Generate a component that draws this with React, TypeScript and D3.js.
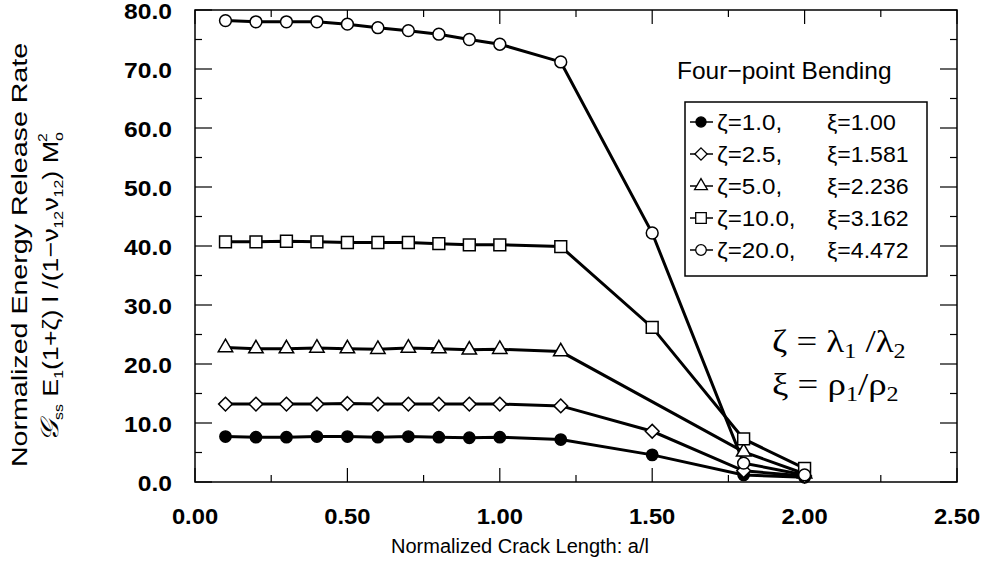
import React from 'react';
import * as d3 from 'd3';

// crack length a/l at which the energy release rate was computed
const crackLength = [0.1, 0.2, 0.3, 0.4, 0.5, 0.6, 0.7, 0.8, 0.9, 1.0, 1.2, 1.5, 1.8, 2.0];

const zetaLabels = ['1.0', '2.5', '5.0', '10.0', '20.0'];
const xiLabels = ['1.00', '1.581', '2.236', '3.162', '4.472'];

// normalized G for each ζ (null = no point drawn at that a/l)
const g1 = [7.7, 7.6, 7.6, 7.7, 7.7, 7.6, 7.7, 7.6, 7.5, 7.6, 7.2, 4.6, 1.2, 0.8];
const g2 = [13.2, 13.2, 13.2, 13.2, 13.3, 13.2, 13.2, 13.2, 13.2, 13.2, 12.9, 8.6, 1.9, 1.0];
const g5 = [22.8, 22.6, 22.6, 22.7, 22.6, 22.5, 22.7, 22.6, 22.4, 22.5, 22.1, null, 5.1, 1.4];
const g10 = [40.7, 40.7, 40.8, 40.7, 40.6, 40.6, 40.6, 40.4, 40.2, 40.2, 39.9, 26.2, 7.3, 2.3];
const g20 = [78.2, 78.0, 78.0, 78.0, 77.6, 77.0, 76.5, 75.9, 75.0, 74.2, 71.2, 42.2, 3.2, 1.2];

const xTicks = [0, 0.5, 1.0, 1.5, 2.0, 2.5];
const yTicks = [0, 10, 20, 30, 40, 50, 60, 70, 80];

const W = 984;
const H = 577;
const left = 195, right = 957, top = 10, bottom = 482;

const font = '"Liberation Sans", Arial, Helvetica, sans-serif';
const serif = '"Liberation Serif", "Times New Roman", serif';

const series = [
  { values: g1, symbol: d3.symbolCircle, size: 100, fill: '#000' },
  { values: g2, symbol: d3.symbolDiamond2, size: 120, fill: '#fff' },
  { values: g5, symbol: d3.symbolTriangle, size: 90, fill: '#fff' },
  { values: g10, symbol: d3.symbolSquare, size: 140, fill: '#fff' },
  { values: g20, symbol: d3.symbolCircle, size: 110, fill: '#fff' },
];

export default function App() {
  const x = d3.scaleLinear().domain([0, 2.5]).range([left, right]);
  const y = d3.scaleLinear().domain([0, 80]).range([bottom, top]);

  const line = d3.line<[number, number]>()
    .x(d => x(d[0]))
    .y(d => y(d[1]));

  const xMinor = d3.range(0, 2.51, 0.25);
  const yMinor = d3.range(0, 80.1, 5);

  return (
    <svg width={W} height={H} style={{ position: 'absolute', left: 0, top: 0, background: '#fff' }}>
      <rect x={0} y={0} width={W} height={H} fill="#fff" />

      {/* frame */}
      <rect x={left} y={top} width={right - left} height={bottom - top}
        fill="none" stroke="#000" strokeWidth={1.5} />

      {/* ticks, all four sides, pointing in */}
      {xMinor.map((v, i) => {
        const major = i % 2 === 0;
        const len = major ? 14 : 7;
        return (
          <g key={'xt' + i}>
            <line x1={x(v)} x2={x(v)} y1={bottom} y2={bottom - len} stroke="#000" strokeWidth={1.2} />
            <line x1={x(v)} x2={x(v)} y1={top} y2={top + len} stroke="#000" strokeWidth={1.2} />
          </g>
        );
      })}
      {yMinor.map((v, i) => {
        const major = i % 2 === 0;
        const len = major ? 17 : 7;
        return (
          <g key={'yt' + i}>
            <line x1={left} x2={left + len} y1={y(v)} y2={y(v)} stroke="#000" strokeWidth={1.2} />
            <line x1={right} x2={right - len} y1={y(v)} y2={y(v)} stroke="#000" strokeWidth={1.2} />
          </g>
        );
      })}

      {/* tick labels */}
      {xTicks.map(v => (
        <text key={'xl' + v} transform={`translate(${x(v)},${bottom + 42}) scale(1.08,1)`}
          textAnchor="middle" fontFamily={font} fontWeight="bold" fontSize={22}>
          {v.toFixed(2)}
        </text>
      ))}
      {yTicks.map(v => (
        <text key={'yl' + v} transform={`translate(${left - 23},${y(v) + 9}) scale(1.12,1)`}
          textAnchor="end" fontFamily={font} fontWeight="bold" fontSize={22}>
          {v.toFixed(1)}
        </text>
      ))}

      {/* axis titles */}
      <text x={(left + right) / 2 - 56} y={553} textAnchor="middle" fontFamily={font} fontSize={20}>
        Normalized Crack Length: a/l
      </text>
      <text transform={`translate(27,255) rotate(-90) scale(1.3,1)`} textAnchor="middle" fontFamily={font} fontSize={22}>
        Normalized Energy Release Rate
      </text>
      <text transform={`translate(58,287) rotate(-90) scale(1.22,1)`} textAnchor="middle" fontFamily={font} fontSize={22}>
        <tspan fontFamily={serif} fontStyle="italic" fontSize={25}>𝒢</tspan>
        <tspan fontSize={13} dy={5}>ss</tspan>
        <tspan dy={-5}> E</tspan>
        <tspan fontSize={13} dy={5}>1</tspan>
        <tspan dy={-5}>(1+ζ) l /(1−ν</tspan>
        <tspan fontSize={13} dy={5}>12</tspan>
        <tspan dy={-5}>ν</tspan>
        <tspan fontSize={13} dy={5}>12</tspan>
        <tspan dy={-5}>) M</tspan>
        <tspan fontSize={13} dy={5}>o</tspan>
        <tspan fontSize={13} dx={-8} dy={-16}>2</tspan>
      </text>

      {/* series lines */}
      {series.map((s, i) => {
        const pts = crackLength
          .map((c, j) => [c, s.values[j]] as [number, number | null])
          .filter(d => d[1] !== null) as [number, number][];
        return <path key={'l' + i} d={line(pts) || ''} fill="none" stroke="#000" strokeWidth={3} />;
      })}

      {/* markers */}
      {series.map((s, i) => {
        const path = d3.symbol().type(s.symbol).size(s.size)() || '';
        return crackLength.map((c, j) => {
          const v = s.values[j];
          if (v === null) return null;
          return (
            <path key={`m${i}-${j}`} d={path} transform={`translate(${x(c)},${y(v)})`}
              fill={s.fill} stroke="#000" strokeWidth={1.5} />
          );
        });
      })}

      {/* label */}
      <text x={677} y={79} fontFamily={font} fontSize={24.5}>
        Four−point Bending
      </text>

      {/* legend */}
      <rect x={685} y={102} width={242} height={174} fill="#fff" stroke="#000" strokeWidth={1.5} />
      {series.map((s, i) => {
        const ly = 122 + i * 32;
        const path = d3.symbol().type(s.symbol).size(s.size * 0.8)() || '';
        return (
          <g key={'lg' + i}>
            <line x1={690} x2={713} y1={ly} y2={ly} stroke="#000" strokeWidth={1.5} />
            <path d={path} transform={`translate(701,${ly})`} fill={s.fill} stroke="#000" strokeWidth={1.3} />
            <text transform={`translate(717,${ly + 8}) scale(1.1,1)`} fontFamily={font} fontSize={22}>
              ζ={zetaLabels[i]},
            </text>
            <text transform={`translate(827,${ly + 8}) scale(1.05,1)`} fontFamily={font} fontSize={22}>
              ξ={xiLabels[i]}
            </text>
          </g>
        );
      })}

      {/* definitions */}
      <text transform="translate(772,352) scale(1.15,1)" fontFamily={serif} fontSize={32}>
        ζ = λ<tspan fontSize={21} dy={6}>1</tspan><tspan dy={-6}> /λ</tspan><tspan fontSize={21} dy={6}>2</tspan>
      </text>
      <text transform="translate(772,395) scale(1.15,1)" fontFamily={serif} fontSize={32}>
        ξ = ρ<tspan fontSize={21} dy={6}>1</tspan><tspan dy={-6}>/ρ</tspan><tspan fontSize={21} dy={6}>2</tspan>
      </text>
    </svg>
  );
}
